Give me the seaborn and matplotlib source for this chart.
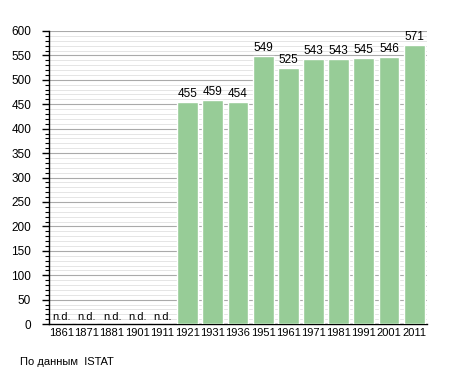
import numpy as np
import pandas as pd
import seaborn as sns
import matplotlib
matplotlib.use("Agg")
from matplotlib import pyplot as plt
from matplotlib.ticker import MultipleLocator

# data
years = ["1861", "1871", "1881", "1901", "1911", "1921", "1931", "1936",
         "1951", "1961", "1971", "1981", "1991", "2001", "2011"]
population = [None, None, None, None, None, 455, 459, 454,
              549, 525, 543, 543, 545, 546, 571]
source_text = "По данным  ISTAT"

df = pd.DataFrame({"year": years, "pop": [p if p is not None else 0 for p in population]})

sns.set_style("white")
plt.rcParams['font.family'] = ['Liberation Sans', 'DejaVu Sans']
plt.rcParams['text.color'] = 'black'
plt.rcParams['xtick.color'] = 'black'
plt.rcParams['ytick.color'] = 'black'

fig = plt.figure(figsize=(4.55, 3.73), dpi=100)
ax = fig.add_axes([0.108, 0.131, 0.830, 0.786])

sns.barplot(data=df, x="year", y="pop", color="#97cc97", width=0.83,
            saturation=1, ax=ax, zorder=3)

ax.set_ylim(0, 600)
ax.set_xlim(-0.5, len(years) - 0.5)
ax.yaxis.set_major_locator(MultipleLocator(50))
ax.yaxis.set_minor_locator(MultipleLocator(10))
ax.grid(which="major", axis="y", color="#aaaaaa", linewidth=0.8, zorder=0)
ax.grid(which="minor", axis="y", color="#e0e0e0", linewidth=0.6, zorder=0)
ax.set_axisbelow(True)

for s in ["top", "right"]:
    ax.spines[s].set_visible(False)
for s in ["left", "bottom"]:
    ax.spines[s].set_color("black")
    ax.spines[s].set_linewidth(1)

fs = 8.5
ax.tick_params(axis="y", which="major", length=5, width=1, labelsize=fs, pad=8, left=True)
ax.tick_params(axis="y", which="minor", length=3, width=0.8, left=True)
ax.tick_params(axis="x", length=0, labelsize=8, pad=3)
ax.set_xlabel("")
ax.set_ylabel("")

for i, p in enumerate(population):
    if p is None:
        ax.text(i, 4, "n.d.", ha="center", va="bottom", fontsize=8, zorder=4)
    else:
        ax.text(i, p + 4, str(p), ha="center", va="bottom", fontsize=fs, zorder=4)

fig.text(20 / 455, 1 - 362 / 373, source_text, fontsize=8, va="center", ha="left")

fig.savefig("out.png", dpi=100)
